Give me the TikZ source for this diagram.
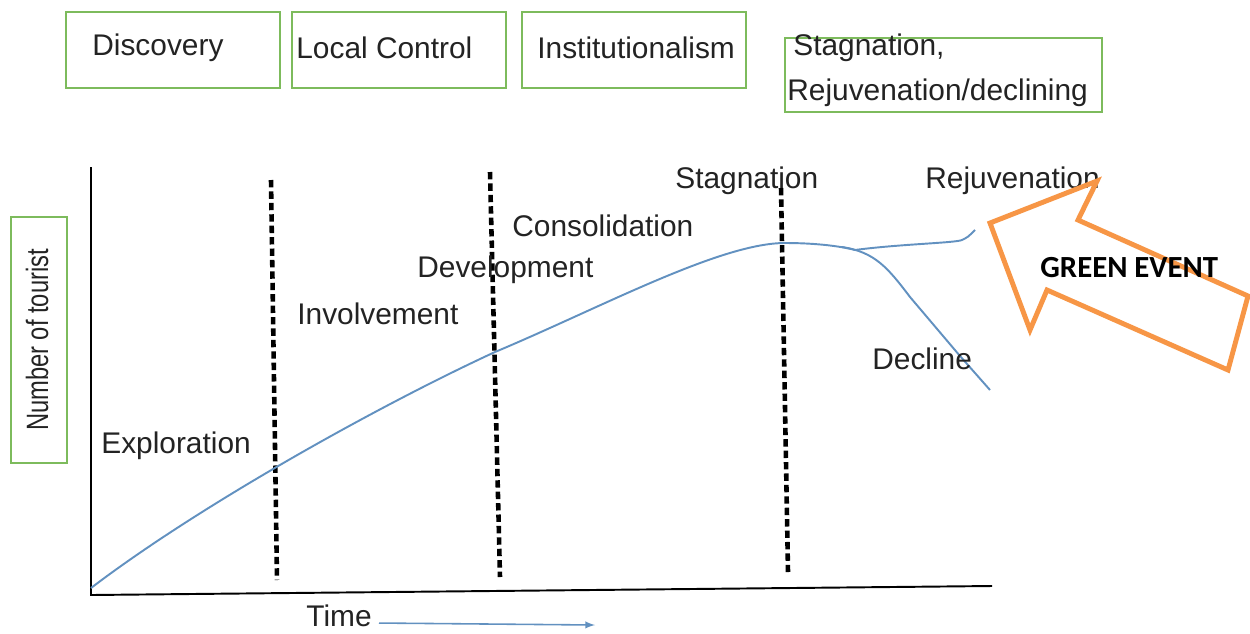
\documentclass[tikz,border=0pt]{standalone}
\usepackage{fontspec}
\setmainfont{Liberation Sans}
\newfontfamily\eventfont{Carlito}
\usepackage{tikz}

\definecolor{boxgreen}{RGB}{125,187,92}
\definecolor{curveblue}{RGB}{98,145,192}
\definecolor{eventorange}{RGB}{247,150,70}
\definecolor{labelgray}{RGB}{35,35,35}

\tikzset{
  phasebox/.style={boxgreen,line width=1.2pt},
  lbl/.style={anchor=west,inner sep=0pt,text=labelgray,font=\fontsize{17}{20}\selectfont},
  divider/.style={black,line width=2.6pt,dash pattern=on 4.2pt off 2.3pt},
  curve/.style={curveblue,line width=1.1pt}
}

\begin{document}
\begin{tikzpicture}[x=0.02cm,y=-0.02cm]
  \useasboundingbox (0,0) rectangle (1250,633);
  % phase boxes on top
  \draw[phasebox] (66,12) rectangle (280,88);
  \draw[phasebox] (292,12) rectangle (506,88);
  \draw[phasebox] (522,12) rectangle (746,88);
  \draw[phasebox] (785,38) rectangle (1102,112);
  \node[lbl] (discovery) at (92,48) {Discovery};
  \node[lbl] (localctrl) at (296,48) {Local Control};
  \node[lbl] (institution) at (537,48) {Institutionalism};
  \node[lbl] (stagbox) at (793,48) {Stagnation,};
  \node[lbl] (rejbox) at (787,93) {Rejuvenation/declining};
  % axes
  \draw[phasebox] (11,217) rectangle (67,463);
  \node[rotate=90,yscale=1.3,inner sep=0pt,text=labelgray,font=\fontsize{13.5}{16}\selectfont] (ylabel) at (37,340) {Number of tourist};
  \draw[black,line width=1.1pt] (91,167) -- (91,595) -- (992,586);
  \node[lbl] (time) at (306,616) {Time};
  \coordinate (timeend) at (595,625);
  \draw[curveblue,line width=0.9pt,-latex] (time.east) ++(4pt,-4pt) -- (timeend);
  % stage dividers
  \draw[divider] (271,180) -- (277,580);
  \draw[divider] (490,172) -- (500,577);
  \draw[divider] (781,188) -- (788,572);
  % life cycle curve
  \draw[curve] (91,588) .. controls (200,505) and (380,405) .. (495,352)
    .. controls (600,308) and (720,243) .. (785,243)
    .. controls (815,243) and (840,246) .. (855,250);
  \draw[curve] (855,250) .. controls (900,244) and (955,243) .. (962,240) .. controls (968,237) .. (975,230);
  \draw[curve] (842,247) .. controls (875,252) and (888,268) .. (910,297) -- (960,356) -- (990,390);
  % stage labels
  \node[lbl] (explore) at (101,446) {Exploration};
  \node[lbl] (involve) at (297,314) {Involvement};
  \node[lbl] (develop) at (417,270) {Development};
  \node[lbl] (consol) at (512,226) {Consolidation};
  \node[lbl] (stagnate) at (675,181) {Stagnation};
  \node[lbl] (rejuv) at (925,181) {Rejuvenation};
  \node[lbl] (decline) at (872,359) {Decline};
  % green event arrow
  \draw[eventorange,line width=2.8pt,line join=miter] (1097,181) -- (990,223) -- (1030,330) -- (1047,290) -- (1228,370) -- (1248,296) -- (1078,220) -- cycle;
  \node[anchor=west,inner sep=0pt,font=\eventfont\bfseries\fontsize{17.5}{20}\selectfont] (event) at (1040,268) {GREEN EVENT};
\end{tikzpicture}
\end{document}
